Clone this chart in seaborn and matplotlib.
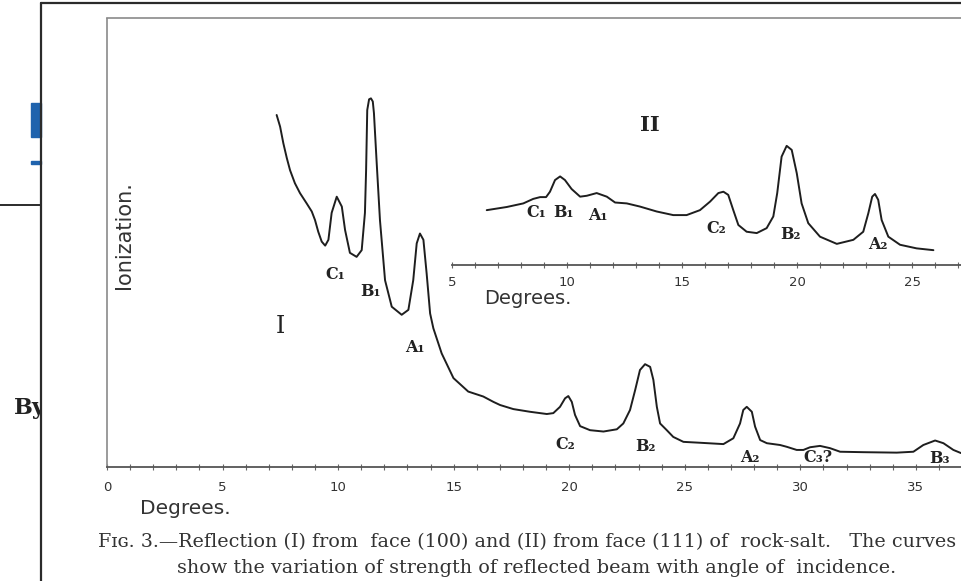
import numpy as np
import pandas as pd
import seaborn as sns
import matplotlib.pyplot as plt
from matplotlib.lines import Line2D
from matplotlib.patches import Rectangle
from matplotlib.transforms import Bbox, TransformedBbox

# Curve I - reflection from face (100) of rock-salt (degrees, ionization in arbitrary units)
deg_100 = [7.34, 7.49, 7.63, 7.78, 7.92, 8.13, 8.35, 8.64, 8.86, 9.00, 9.14, 9.29, 9.44, 9.58,
           9.72, 9.94, 10.16, 10.30, 10.51, 10.80, 11.02, 11.16, 11.21, 11.26, 11.34, 11.42,
           11.50, 11.55, 11.67, 11.81, 12.03, 12.32, 12.75, 13.04, 13.25, 13.40, 13.54, 13.69,
           13.83, 13.98, 14.12, 14.48, 14.99, 15.63, 16.28, 16.72, 17.01, 17.58, 18.30, 19.03,
           19.31, 19.60, 19.82, 19.96, 20.11, 20.25, 20.47, 20.90, 21.48, 22.06, 22.34, 22.63,
           22.85, 23.06, 23.28, 23.50, 23.64, 23.79, 23.93, 24.22, 24.50, 24.94, 25.66, 26.67,
           27.10, 27.39, 27.53, 27.68, 27.90, 28.04, 28.26, 28.55, 29.12, 29.41, 29.84, 30.13,
           30.42, 30.85, 31.28, 31.72, 32.73, 34.17, 34.89, 35.32, 35.83, 36.19, 36.62, 36.95]
ion_100 = [78.4, 75.8, 72.1, 68.8, 66.1, 63.2, 61.0, 58.7, 56.9, 55.0, 52.4, 50.2, 49.3, 50.6,
           56.6, 60.2, 58.0, 52.8, 47.7, 46.8, 48.3, 56.6, 66.0, 79.5, 81.9, 82.1,
           81.4, 78.8, 67.6, 55.0, 41.6, 35.7, 33.9, 35.0, 41.6, 49.8, 52.0, 50.6,
           43.1, 34.2, 30.9, 25.3, 19.8, 16.8, 15.7, 14.5, 13.8, 12.9, 12.3, 11.8,
           12.0, 13.4, 15.3, 15.8, 14.5, 11.6, 9.1, 8.2, 7.9, 8.4, 9.7, 12.7,
           17.1, 21.6, 22.9, 22.3, 19.4, 13.4, 9.7, 8.2, 6.7, 5.6, 5.4, 5.1,
           6.4, 9.7, 12.7, 13.4, 12.3, 9.0, 6.0, 5.3, 4.9, 4.5, 3.8, 3.8,
           4.4, 4.7, 4.2, 3.4, 3.3, 3.2, 3.4, 4.9, 5.9, 5.3, 3.8, 3.1]

# Curve II - reflection from face (111)
deg_111 = [6.51, 7.38, 8.10, 8.53, 8.83, 9.09, 9.26, 9.48, 9.70, 9.91, 10.20, 10.57, 10.86,
           11.29, 11.73, 12.09, 12.60, 13.17, 13.90, 14.62, 15.20, 15.78, 16.22, 16.58, 16.80,
           17.01, 17.23, 17.45, 17.81, 18.25, 18.68, 18.97, 19.14, 19.33, 19.55, 19.77, 19.99,
           20.20, 20.49, 21.00, 21.73, 22.45, 22.88, 23.10, 23.27, 23.39, 23.53, 23.68, 23.97,
           24.48, 25.20, 25.93]
ion_111 = [12.2, 12.9, 13.7, 14.7, 15.1, 15.1, 16.3, 18.9, 19.7, 18.9, 16.9, 15.2, 15.4,
           16.0, 15.2, 13.9, 13.7, 13.0, 11.9, 11.1, 11.1, 12.2, 14.1, 16.0, 16.3,
           15.6, 12.2, 8.9, 7.4, 7.1, 8.2, 10.8, 16.0, 24.1, 26.5, 25.6, 20.4,
           13.7, 9.3, 6.3, 4.7, 5.6, 7.4, 11.5, 15.2, 15.8, 14.5, 10.0, 6.3,
           4.5, 3.7, 3.3]

main_ticks = [0, 5, 10, 15, 20, 25, 30, 35]
inset_ticks = [5, 10, 15, 20, 25]
peaks_100 = ["C₁", "B₁", "A₁", "C₂", "B₂", "A₂", "C₃?", "B₃"]
peaks_111 = ["C₁", "B₁", "A₁", "C₂", "B₂", "A₂"]

# where the peak letters sit (data coords)
pos_100 = [(9.87, 42.8), (11.38, 39.0), (13.33, 26.7), (19.82, 4.9), (23.28, 4.5),
           (27.82, 2.2), (30.77, 2.2), (36.04, 2.0)]
pos_111 = [(8.68, 11.6), (9.84, 11.6), (11.36, 11.1), (16.51, 8.2), (19.70, 6.7), (23.53, 4.5)]

sns.set_theme(style="white")
plt.rcParams['font.family'] = ['DejaVu Sans']

W, H = 961, 581
fig = plt.figure(figsize=(W / 100, H / 100), dpi=100)


def box(x0, y0, x1, y1):
    return [x0 / W, 1 - y1 / H, (x1 - x0) / W, (y1 - y0) / H]


ink = '#1e1e1e'
ax = fig.add_axes(box(107, 18, 961, 467))
ins = fig.add_axes(box(452, 100, 961, 265))
ins.patch.set_alpha(0)

df1 = pd.DataFrame({'deg': deg_100, 'ion': ion_100})
df2 = pd.DataFrame({'deg': deg_111, 'ion': ion_111})
sns.lineplot(data=df1, x='deg', y='ion', ax=ax, color=ink, lw=1.4, sort=False, estimator=None)
sns.lineplot(data=df2, x='deg', y='ion', ax=ins, color=ink, lw=1.4, sort=False, estimator=None)
for a in (ax, ins):
    for ln in a.lines:
        ln.set_solid_joinstyle('round')

# main panel
ax.set_xlim(0, 36.95)
ax.set_ylim(0, 100)
ax.set_xticks(main_ticks)
ax.set_xticks(range(0, 37), minor=True)
ax.set_yticks([])
ax.set_xlabel('')
ax.set_ylabel('')
ax.spines['right'].set_visible(False)
for s in ['top', 'left']:
    ax.spines[s].set_color('#8a8a8a')
    ax.spines[s].set_linestyle((0, (2, 1)))
    ax.spines[s].set_linewidth(1.2)
ax.spines['bottom'].set_color('#555555')
ax.spines['bottom'].set_linewidth(1.3)
ax.tick_params(axis='x', which='both', direction='inout', length=4, width=0.8, color='#666666',
               labelsize=9.5, labelcolor='#333333', pad=8, bottom=True)

# inset panel
ins.set_xlim(5, 27.13)
ins.set_ylim(0, 36.7)
ins.set_xticks(inset_ticks)
ins.set_xticks(range(5, 28), minor=True)
ins.set_yticks([])
ins.set_xlabel('')
ins.set_ylabel('')
for s in ['top', 'left', 'right']:
    ins.spines[s].set_visible(False)
ins.spines['bottom'].set_color('#555555')
ins.spines['bottom'].set_linewidth(1.3)
ins.tick_params(axis='x', which='both', direction='inout', length=4, width=0.8, color='#666666',
                labelsize=9.5, labelcolor='#333333', pad=6, bottom=True)

lab = dict(family='DejaVu Serif', fontweight='bold', fontsize=11.5, color='#222222',
           ha='center', va='center')
for name, (x, y) in zip(peaks_100, pos_100):
    ax.text(x, y, name, **lab)
for name, (x, y) in zip(peaks_111, pos_111):
    ins.text(x, y, name, **lab)
ax.text(7.49, 31.2, "I", family='DejaVu Serif', fontsize=17, color='#222222', ha='center', va='center')
ins.text(13.61, 31.2, "II", family='DejaVu Serif', fontweight='bold', fontsize=15, color='#222222',
         ha='center', va='center')

# hand-lettered axis names
fig.text(185 / W, 1 - 508 / H, "Degrees.", fontsize=14.5, color='#333333', ha='center', va='center')
fig.text(528 / W, 1 - 298 / H, "Degrees.", fontsize=14, color='#333333', ha='center', va='center')
fig.text(124 / W, 1 - 235 / H, "Ionization.", fontsize=15, color='#333333', rotation=90,
         ha='center', va='center')

# caption
cap = dict(family='DejaVu Serif', fontsize=13.8, color='#333333', va='center')
fig.text(98 / W, 1 - 542 / H,
         "Fɪɢ. 3.—Reflection (I) from  face (100) and (II) from face (111) of  rock-salt.   The curves",
         ha='left', **cap)
fig.text(537 / W, 1 - 568 / H,
         "show the variation of strength of reflected beam with angle of  incidence.",
         ha='center', **cap)

# page behind the figure (left strip)
fig.add_artist(Line2D([41 / W, 41 / W], [0, 1 - 3 / H], color='#2b2b2b', lw=1.6))
fig.add_artist(Line2D([41 / W, 1], [1 - 3 / H, 1 - 3 / H], color='#2b2b2b', lw=1.6))
fig.add_artist(Line2D([0, 41 / W], [1 - 205 / H, 1 - 205 / H], color='#2b2b2b', lw=1.4))
fig.add_artist(Rectangle((31 / W, 1 - 137 / H), 10 / W, 34 / H, color='#1f63ad',
                         transform=fig.transFigure))
fig.add_artist(Rectangle((31 / W, 1 - 164 / H), 10 / W, 2.5 / H, color='#1f63ad',
                         transform=fig.transFigure))
by = fig.text(14 / W, 1 - 408 / H, "By", family='DejaVu Serif', fontweight='bold', fontsize=16,
              color='#222222', ha='left', va='center')
by.set_clip_box(TransformedBbox(Bbox([[0, 0], [40 / W, 1]]), fig.transFigure))
by.set_clip_on(True)

fig.savefig("out.png", dpi=100)
